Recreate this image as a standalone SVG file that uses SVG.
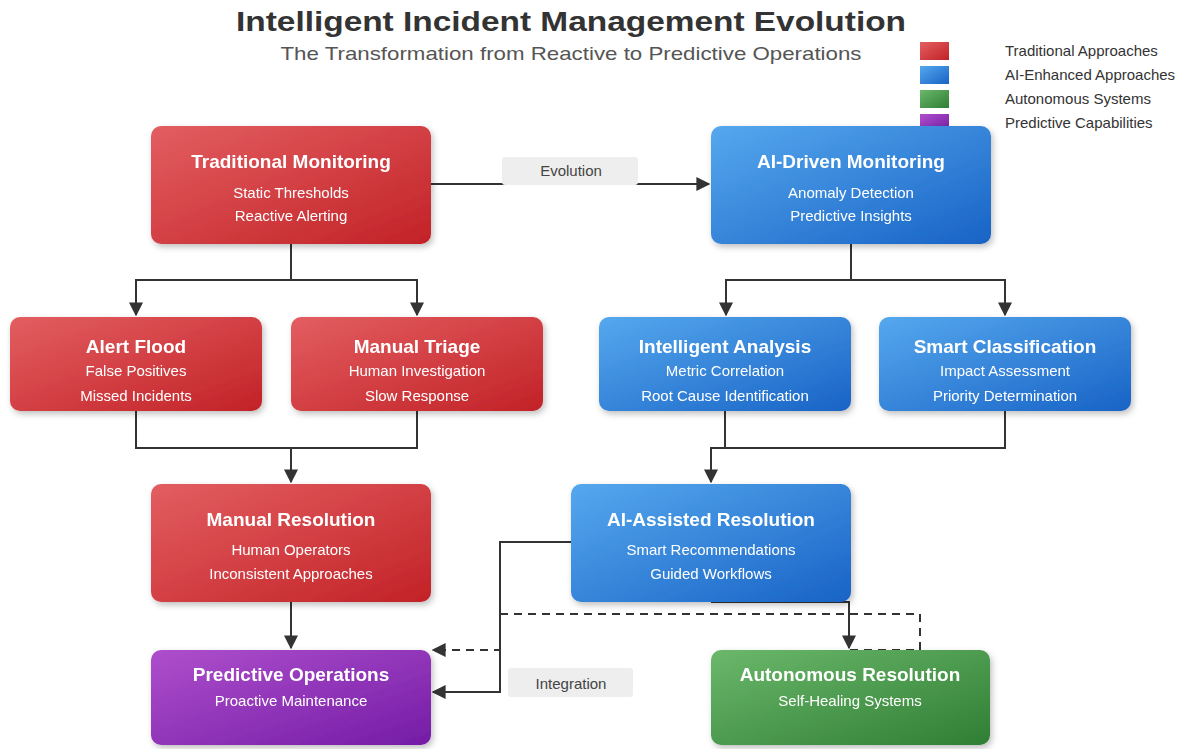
<svg xmlns="http://www.w3.org/2000/svg" width="1185" height="749" viewBox="0 0 1185 749">
  <style>
    .title { font-family: "Liberation Sans", Arial, sans-serif; font-size: 28px; font-weight: bold; fill: #333333; text-anchor: middle; }
    .subtitle { font-family: "Liberation Sans", Arial, sans-serif; font-size: 19px; fill: #555555; text-anchor: middle; }
    .legend-text { font-family: "Liberation Sans", Arial, sans-serif; font-size: 15px; fill: #333333; }
    .node-title { font-family: "Liberation Sans", Arial, sans-serif; font-size: 19px; font-weight: bold; fill: #ffffff; text-anchor: middle; }
    .node-line { font-family: "Liberation Sans", Arial, sans-serif; font-size: 15px; fill: #ffffff; text-anchor: middle; }
    .edge { fill: none; stroke: #333333; stroke-width: 2; }
    .dashed { stroke-dasharray: 8 6; }
    .edge-label-bg { fill: #eeeeee; }
    .edge-label { font-family: "Liberation Sans", Arial, sans-serif; font-size: 15px; fill: #444444; text-anchor: middle; }
    .red { fill: url(#gradRed); }
    .blue { fill: url(#gradBlue); }
    .green { fill: url(#gradGreen); }
    .purple { fill: url(#gradPurple); }
    .box { filter: url(#shadow); }
  </style>
  <defs>
    <linearGradient id="gradRed" x1="0" y1="0" x2="1" y2="1">
      <stop offset="0" stop-color="#e35e61"/>
      <stop offset="1" stop-color="#c22227"/>
    </linearGradient>
    <linearGradient id="gradBlue" x1="0" y1="0" x2="1" y2="1">
      <stop offset="0" stop-color="#55a8ee"/>
      <stop offset="1" stop-color="#1863c6"/>
    </linearGradient>
    <linearGradient id="gradGreen" x1="0" y1="0" x2="1" y2="1">
      <stop offset="0" stop-color="#6bb86b"/>
      <stop offset="1" stop-color="#2f7e34"/>
    </linearGradient>
    <linearGradient id="gradPurple" x1="0" y1="0" x2="1" y2="1">
      <stop offset="0" stop-color="#ae4fcc"/>
      <stop offset="1" stop-color="#741ca6"/>
    </linearGradient>
    <filter id="shadow" x="-10%" y="-10%" width="125%" height="130%">
      <feDropShadow dx="2" dy="3" stdDeviation="3" flood-color="#000000" flood-opacity="0.25"/>
    </filter>
    <marker id="arrow" viewBox="0 0 10 10" refX="9" refY="5" markerWidth="7" markerHeight="7" orient="auto" markerUnits="strokeWidth">
      <path d="M0,0 L10,5 L0,10 z" fill="#333333"/>
    </marker>
  </defs>

  <rect width="1185" height="749" fill="#ffffff"/>

  <!-- heading -->
  <text class="title" x="571" y="31" textLength="670" lengthAdjust="spacingAndGlyphs">Intelligent Incident Management Evolution</text>
  <text class="subtitle" x="571" y="60" textLength="581" lengthAdjust="spacingAndGlyphs">The Transformation from Reactive to Predictive Operations</text>

  <!-- legend -->
  <g id="legend">
    <rect class="red" x="920" y="42" width="29" height="18"/>
    <text class="legend-text" x="1005" y="56">Traditional Approaches</text>
    <rect class="blue" x="920" y="66" width="29" height="18"/>
    <text class="legend-text" x="1005" y="80">AI-Enhanced Approaches</text>
    <rect class="green" x="920" y="90" width="29" height="18"/>
    <text class="legend-text" x="1005" y="104">Autonomous Systems</text>
    <rect class="purple" x="920" y="114" width="29" height="18"/>
    <text class="legend-text" x="1005" y="128">Predictive Capabilities</text>
  </g>

  <!-- connectors -->
  <g id="connectors">
    <path class="edge" d="M431,184 L709,184" marker-end="url(#arrow)"/>
    <path class="edge" d="M291,244 L291,280 L136,280 L136,315" marker-end="url(#arrow)"/>
    <path class="edge" d="M291,280 L417,280 L417,315" marker-end="url(#arrow)"/>
    <path class="edge" d="M136,411 L136,448 L417,448 L417,411"/>
    <path class="edge" d="M291,448 L291,482" marker-end="url(#arrow)"/>
    <path class="edge" d="M291,602 L291,648" marker-end="url(#arrow)"/>
    <path class="edge" d="M851,244 L851,280 L726,280 L726,315" marker-end="url(#arrow)"/>
    <path class="edge" d="M851,280 L1005,280 L1005,315" marker-end="url(#arrow)"/>
    <path class="edge" d="M725,411 L725,448 L1005,448 L1005,411"/>
    <path class="edge" d="M725,448 L711,448 L711,482" marker-end="url(#arrow)"/>
    <path class="edge" d="M571,542 L500,542 L500,692 L433,692" marker-end="url(#arrow)"/>
    <path class="edge" d="M711,602 L849,602 L849,648" marker-end="url(#arrow)"/>
    <path class="edge dashed" d="M850,650 L920,650 L920,614 L500,614 L500,650 L433,650" marker-end="url(#arrow)"/>
    <rect class="edge-label-bg" x="502" y="157" width="136" height="28" rx="3"/>
    <text class="edge-label" x="571" y="176">Evolution</text>
    <rect class="edge-label-bg" x="508" y="668" width="125" height="29" rx="3"/>
    <text class="edge-label" x="571" y="689">Integration</text>
  </g>

  <!-- nodes -->
  <g id="traditional-monitoring" class="box">
    <rect class="red" x="151" y="126" width="280" height="118" rx="10"/>
    <text class="node-title" x="291" y="168">Traditional Monitoring</text>
    <text class="node-line" x="291" y="198">Static Thresholds</text>
    <text class="node-line" x="291" y="221">Reactive Alerting</text>
  </g>
  <g id="ai-driven-monitoring" class="box">
    <rect class="blue" x="711" y="126" width="280" height="118" rx="10"/>
    <text class="node-title" x="851" y="168">AI-Driven Monitoring</text>
    <text class="node-line" x="851" y="198">Anomaly Detection</text>
    <text class="node-line" x="851" y="221">Predictive Insights</text>
  </g>
  <g id="alert-flood" class="box">
    <rect class="red" x="10" y="317" width="252" height="94" rx="10"/>
    <text class="node-title" x="136" y="353">Alert Flood</text>
    <text class="node-line" x="136" y="376">False Positives</text>
    <text class="node-line" x="136" y="401">Missed Incidents</text>
  </g>
  <g id="manual-triage" class="box">
    <rect class="red" x="291" y="317" width="252" height="94" rx="10"/>
    <text class="node-title" x="417" y="353">Manual Triage</text>
    <text class="node-line" x="417" y="376">Human Investigation</text>
    <text class="node-line" x="417" y="401">Slow Response</text>
  </g>
  <g id="intelligent-analysis" class="box">
    <rect class="blue" x="599" y="317" width="252" height="94" rx="10"/>
    <text class="node-title" x="725" y="353">Intelligent Analysis</text>
    <text class="node-line" x="725" y="376">Metric Correlation</text>
    <text class="node-line" x="725" y="401">Root Cause Identification</text>
  </g>
  <g id="smart-classification" class="box">
    <rect class="blue" x="879" y="317" width="252" height="94" rx="10"/>
    <text class="node-title" x="1005" y="353">Smart Classification</text>
    <text class="node-line" x="1005" y="376">Impact Assessment</text>
    <text class="node-line" x="1005" y="401">Priority Determination</text>
  </g>
  <g id="manual-resolution" class="box">
    <rect class="red" x="151" y="484" width="280" height="118" rx="10"/>
    <text class="node-title" x="291" y="526">Manual Resolution</text>
    <text class="node-line" x="291" y="555">Human Operators</text>
    <text class="node-line" x="291" y="579">Inconsistent Approaches</text>
  </g>
  <g id="ai-assisted-resolution" class="box">
    <rect class="blue" x="571" y="484" width="280" height="118" rx="10"/>
    <text class="node-title" x="711" y="526">AI-Assisted Resolution</text>
    <text class="node-line" x="711" y="555">Smart Recommendations</text>
    <text class="node-line" x="711" y="579">Guided Workflows</text>
  </g>
  <g id="predictive-operations" class="box">
    <rect class="purple" x="151" y="650" width="280" height="95" rx="10"/>
    <text class="node-title" x="291" y="681">Predictive Operations</text>
    <text class="node-line" x="291" y="706">Proactive Maintenance</text>
  </g>
  <g id="autonomous-resolution" class="box">
    <rect class="green" x="711" y="650" width="279" height="95" rx="10"/>
    <text class="node-title" x="850" y="681">Autonomous Resolution</text>
    <text class="node-line" x="850" y="706">Self-Healing Systems</text>
  </g>
</svg>
